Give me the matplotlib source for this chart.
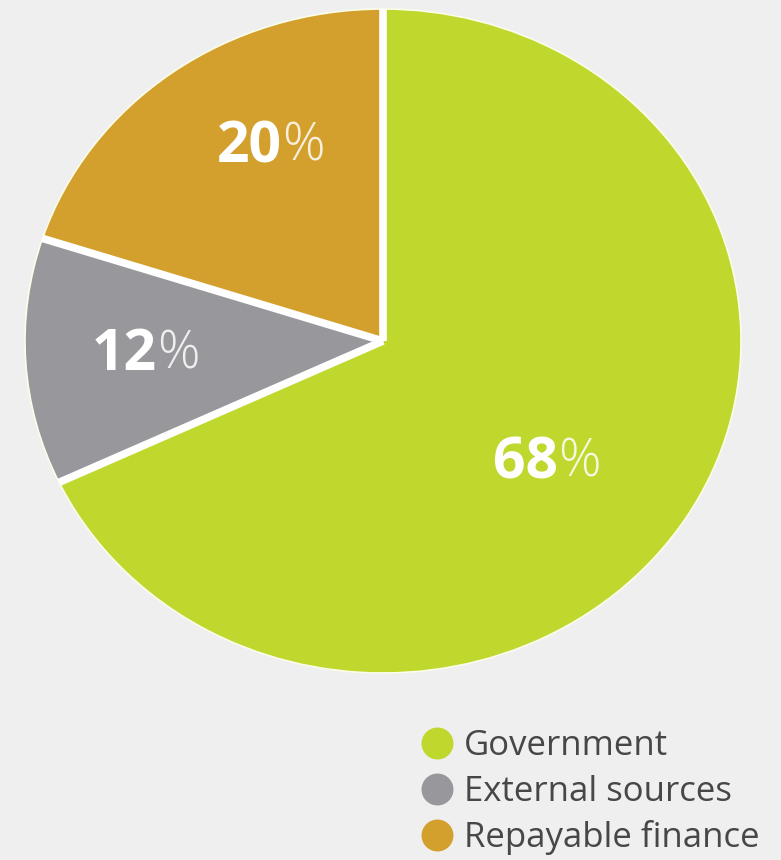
import numpy as np
import matplotlib.pyplot as plt
from matplotlib.lines import Line2D

labels = ["Government", "External sources", "Repayable finance"]
shares = [68, 12, 20]
colors = ["#c0d72e", "#97979c", "#d3a02d"]

# where each percentage label sits inside its wedge (axes fraction)
label_pos = [(0.744, 0.316), (0.184, 0.479), (0.359, 0.792)]

plt.rcParams["font.family"] = ["Open Sans", "DejaVu Sans"]

fig = plt.figure(figsize=(7.81, 8.60), dpi=100)
fig.patch.set_facecolor("#efefef")

ax = fig.add_axes([25 / 781, 1 - 673 / 860, 716 / 781, 664 / 860])
ax.set_facecolor("none")
ax.pie(shares, colors=colors, startangle=90, counterclock=False,
       wedgeprops=dict(edgecolor="#fbfde8", linewidth=1.2))
ax.set_aspect("auto")
ax.set_xlim(-1.0, 1.0)
ax.set_ylim(-1.0, 1.0)
ax.axis("off")

# white gaps between the wedges
bounds = 90 - 360 * np.cumsum([0] + shares[:-1]) / sum(shares)
for a in np.deg2rad(bounds):
    ax.plot([0, np.cos(a)], [0, np.sin(a)], color="white", lw=5.5,
            solid_capstyle="butt")

for val, (x, y) in zip(shares, label_pos):
    ax.text(x, y, str(val), transform=ax.transAxes, ha="right", va="center",
            color="white", fontsize=41, fontweight="bold")
    ax.text(x, y, "%", transform=ax.transAxes, ha="left", va="center",
            color="white", fontsize=38, fontweight="light", alpha=0.85)

handles = [Line2D([], [], marker="o", linestyle="none", markersize=22,
                  markerfacecolor=c, markeredgecolor=c) for c in colors]
fig.legend(handles, labels, loc="upper left", bbox_to_anchor=(401 / 781, 1 - 712 / 860),
           frameon=False, fontsize=25, labelcolor="#474747", handletextpad=0.2,
           labelspacing=0.33, handlelength=1.1, borderpad=0)

fig.savefig("out.png", dpi=100, facecolor=fig.get_facecolor())
